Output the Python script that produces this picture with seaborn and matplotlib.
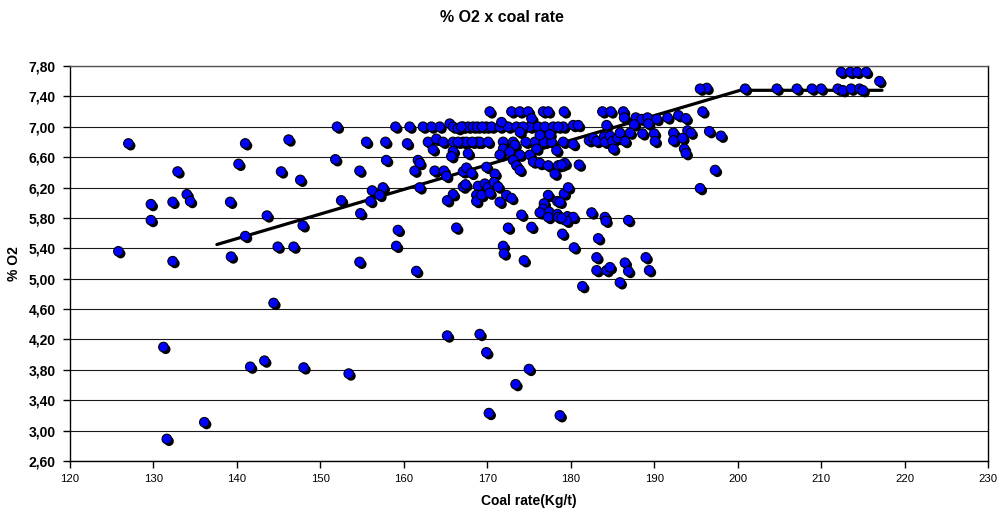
import matplotlib
matplotlib.use("Agg")
import matplotlib.pyplot as plt
import matplotlib.patheffects as pe
import seaborn as sns
import pandas as pd

# Coal rate (kg/t) and O2 (%) readings
coal_rate = [
    127.0, 141.0, 146.2, 140.2, 132.9, 145.3, 134.0, 134.4, 132.3, 129.7,
    139.2, 129.7, 143.6, 141.0, 125.8, 144.9, 132.3, 139.3,
    144.4, 131.2, 141.6, 143.3, 136.1, 131.6,
    152.0, 159.0, 160.7, 162.3, 164.3, 165.5, 165.9, 166.5, 167.1, 167.7, 168.3, 168.8,
    155.5, 157.8, 160.4, 162.9, 163.9, 164.7, 165.9, 167.1, 167.5, 168.8,
    163.5, 165.9, 165.7, 167.7,
    151.8, 157.9, 161.7, 161.9,
    154.7, 147.6, 161.3, 163.7, 164.8, 165.1, 167.1, 167.5, 168.1,
    156.2, 157.5, 157.1, 156.0, 161.9, 167.1, 167.4, 168.9, 165.9, 165.2, 168.7, 168.7,
    152.5, 154.8, 147.9, 159.3, 166.3,
    146.8, 159.1, 154.7, 161.5,
    174.4, 165.2, 169.1, 169.9, 148.0, 153.4, 175.0, 173.4, 170.2, 178.7,
    170.3, 172.9, 173.9, 174.9, 176.7, 177.3, 179.2,
    169.9, 170.5, 171.5, 172.5, 173.5, 175.1, 176.1, 176.9, 177.9, 179.1,
    163.3, 166.9, 169.4, 174.3, 178.5,
    171.7, 173.9, 175.3,
    169.1, 170.1, 171.9, 173.1, 175.7, 176.8, 177.7, 179.1,
    166.5, 168.2, 174.6,
    171.9, 173.3, 172.7, 171.5, 173.9, 176.3, 177.5, 175.9, 175.1, 175.5,
    176.3, 177.3, 178.5, 179.3, 178.1, 178.3,
    173.1, 173.5, 173.9, 169.9, 170.9,
    169.7, 170.1, 170.8, 171.3, 169.3, 170.3, 172.3, 172.9, 171.5,
    174.1, 177.3, 178.4, 179.2, 176.8, 176.7, 176.3, 177.4, 178.4, 179.6,
    177.3, 178.5, 180.3, 179.5, 182.5, 172.5, 175.3, 179.0, 183.3, 171.9,
    172.0, 180.4, 183.1, 183.1, 181.4,
    183.8, 184.8, 186.3, 186.4, 187.8, 188.5, 189.2, 187.6, 189.3, 190.3,
    191.6, 192.9, 193.8, 195.8, 184.3, 180.3, 180.9, 194.0, 196.6, 198.0,
    180.3, 182.2, 182.7, 183.1, 184.0, 184.1, 184.7, 185.0, 185.1, 185.6,
    185.9, 186.5, 187.1, 188.6, 190.0, 190.1, 192.3, 192.3, 193.4, 194.4,
    193.6, 193.8,
    178.9, 181.0, 197.3, 179.7, 178.7, 195.5,
    178.9, 184.1, 184.2, 186.9,
    189.0, 184.3, 184.7, 186.5, 186.9, 189.4, 185.9,
    196.3, 195.5, 200.9, 204.7, 207.1, 208.9, 210.0, 212.0, 212.6, 213.6,
    214.6, 215.0, 212.4, 213.5, 214.3, 215.4, 217.0,
]
o2_pct = [
    6.78, 6.78, 6.83, 6.51, 6.41, 6.41, 6.11, 6.02, 6.01, 5.98,
    6.01, 5.77, 5.83, 5.56, 5.36, 5.42, 5.23, 5.29,
    4.68, 4.10, 3.84, 3.92, 3.11, 2.89,
    7.00, 7.00, 7.00, 7.00, 7.00, 7.04, 7.00, 6.98, 7.00, 7.00, 7.00, 7.00,
    6.80, 6.80, 6.78, 6.80, 6.84, 6.80, 6.80, 6.80, 6.80, 6.80,
    6.70, 6.68, 6.61, 6.65,
    6.57, 6.56, 6.56, 6.52,
    6.42, 6.30, 6.42, 6.42, 6.42, 6.35, 6.41, 6.46, 6.39,
    6.16, 6.20, 6.10, 6.02, 6.20, 6.21, 6.24, 6.22, 6.11, 6.03, 6.10, 6.02,
    6.03, 5.86, 5.70, 5.64, 5.67,
    5.42, 5.43, 5.22, 5.10,
    5.24, 4.25, 4.27, 4.03, 3.83, 3.75, 3.81, 3.61, 3.23, 3.20,
    7.20, 7.20, 7.20, 7.20, 7.20, 7.20, 7.20,
    7.00, 7.00, 7.00, 7.00, 7.00, 7.00, 7.00, 7.00, 7.00, 7.00,
    7.00, 7.00, 7.00, 7.00, 7.00,
    7.06, 6.93, 7.11,
    6.80, 6.80, 6.80, 6.80, 6.80, 6.80, 6.80, 6.80,
    6.80, 6.80, 6.80,
    6.71, 6.76, 6.67, 6.63, 6.63, 6.89, 6.90, 6.71, 6.63, 6.54,
    6.52, 6.49, 6.49, 6.52, 6.38, 6.69,
    6.56, 6.49, 6.43, 6.47, 6.38,
    6.25, 6.20, 6.27, 6.21, 6.10, 6.13, 6.10, 6.06, 6.01,
    5.84, 6.10, 6.02, 6.12, 5.99, 5.92, 5.87, 5.88, 5.85, 5.82,
    5.81, 5.81, 5.81, 5.76, 5.87, 5.67, 5.68, 5.59, 5.53, 5.43,
    5.33, 5.41, 5.28, 5.11, 4.90,
    7.20, 7.20, 7.20, 7.12, 7.12, 7.10, 7.12, 7.03, 7.04, 7.10,
    7.12, 7.15, 7.11, 7.20, 7.02, 7.02, 7.02, 6.95, 6.94, 6.88,
    6.77, 6.82, 6.85, 6.81, 6.87, 6.80, 6.88, 6.81, 6.71, 6.85,
    6.92, 6.81, 6.92, 6.91, 6.91, 6.81, 6.92, 6.82, 6.85, 6.92,
    6.71, 6.65,
    6.50, 6.50, 6.43, 6.20, 6.01, 6.19,
    5.80, 5.81, 5.76, 5.77,
    5.28, 5.11, 5.15, 5.21, 5.10, 5.11, 4.95,
    7.51, 7.50, 7.50, 7.50, 7.50, 7.50, 7.50, 7.50, 7.48, 7.50,
    7.50, 7.48, 7.72, 7.72, 7.72, 7.72, 7.60,
]

# Fitted trend: rising segment, then a plateau
trend_x = [137.6, 200.3, 217.3]
trend_y = [5.45, 7.48, 7.48]

x_ticks = [120, 130, 140, 150, 160, 170, 180, 190, 200, 210, 220, 230]
y_ticks = [2.60, 3.00, 3.40, 3.80, 4.20, 4.60, 5.00, 5.40, 5.80, 6.20, 6.60, 7.00, 7.40, 7.80]
y_tick_labels = [f"{v:.2f}".replace(".", ",") for v in y_ticks]

df = pd.DataFrame({"coal": coal_rate, "o2": o2_pct})

sns.set_theme(style="white")
plt.rcParams["font.family"] = ["Liberation Sans", "DejaVu Sans"]
plt.rcParams["text.color"] = "black"
plt.rcParams["axes.labelcolor"] = "black"
plt.rcParams["xtick.color"] = "black"
plt.rcParams["ytick.color"] = "black"

fig = plt.figure(figsize=(10, 5.14), dpi=100)
ax = fig.add_axes([0.070, 0.1031, 0.918, 0.7685])

sns.lineplot(x=trend_x, y=trend_y, sort=False, estimator=None, color="black",
             linewidth=2.3, ax=ax, zorder=2)

sns.scatterplot(data=df, x="coal", y="o2", color="#0000FF", edgecolor="black",
                linewidth=0.8, s=48, ax=ax, zorder=3)
pts = ax.collections[-1]
pts.set_path_effects([
    pe.SimplePatchShadow(offset=(1.6, -1.6), shadow_rgbFace="black", alpha=1.0),
    pe.Normal(),
])

ax.set_xlim(120, 230)
ax.set_ylim(2.60, 7.80)
ax.set_xticks(x_ticks)
ax.set_xticklabels([str(t) for t in x_ticks])
ax.set_yticks(y_ticks)
ax.set_yticklabels(y_tick_labels, fontweight="bold")

ax.yaxis.grid(True, color="#1a1a1a", linewidth=0.8)
ax.xaxis.grid(False)
ax.set_axisbelow(True)

for side in ["left", "bottom", "right"]:
    ax.spines[side].set_color("black")
    ax.spines[side].set_linewidth(1.0)
ax.spines["top"].set_color("#555555")
ax.spines["top"].set_linewidth(1.0)

ax.tick_params(axis="y", direction="out", length=5, width=1, labelsize=10,
               pad=5.5, left=True, colors="black")
ax.tick_params(axis="x", direction="out", length=5, width=1, labelsize=8.2,
               pad=4.5, bottom=True, colors="black")

ax.set_xlabel("Coal rate(Kg/t)", fontsize=10, fontweight="bold", va="center",
              color="black")
ax.xaxis.set_label_coords(0.5, -0.101)
ax.set_ylabel("% O2", fontsize=10, fontweight="bold", va="center", color="black")
ax.yaxis.set_label_coords(-0.061, 0.5)

fig.text(0.502, 1 - 17 / 514, "% O2 x coal rate", ha="center", va="center",
         fontsize=11.5, fontweight="bold", color="black")

fig.savefig("out.png", dpi=100, facecolor="white")
